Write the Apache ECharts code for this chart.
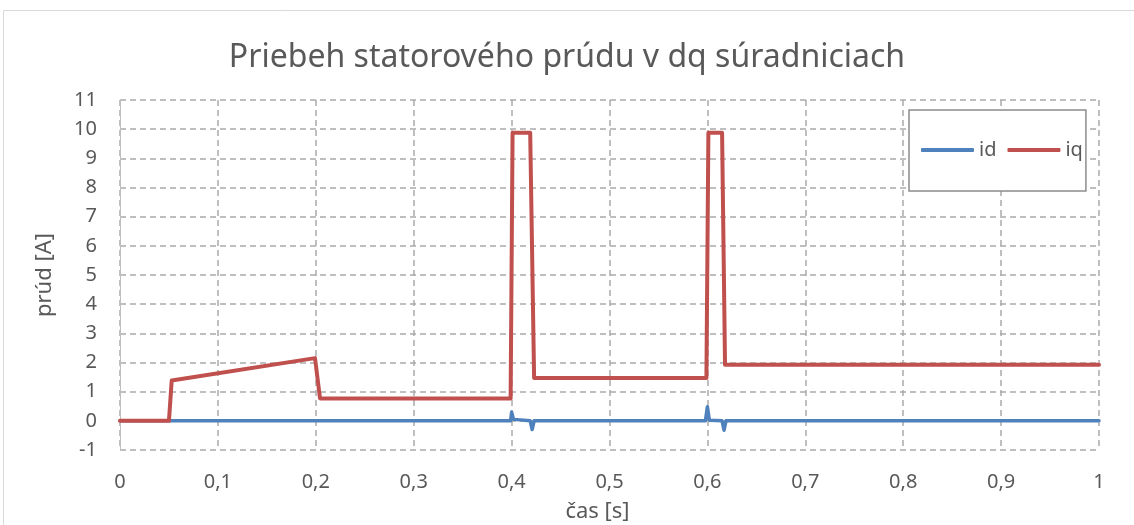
<!DOCTYPE html>
<html>
<head>
<meta charset="utf-8">
<script src="https://cdn.jsdelivr.net/npm/echarts@6/dist/echarts.min.js"></script>
<style>
html,body{margin:0;padding:0;background:#fff;}
#c{width:1134px;height:525px;}
</style>
</head>
<body>
<div id="c"></div>
<script>
// ---- data ----
var iqTime   = [0, 0.05, 0.0528, 0.1992, 0.2043, 0.399, 0.401, 0.419, 0.423, 0.599, 0.601, 0.615, 0.618, 1];
var iqValues = [0, 0,    1.38,   2.15,   0.77,   0.77,  9.88,  9.88,  1.47,  1.47,  9.88,  9.88,  1.92,  1.92];
var idTime   = [0, 0.399, 0.4, 0.402, 0.404, 0.419, 0.421, 0.423, 0.598, 0.6,  0.602, 0.615, 0.617, 0.619, 1];
var idValues = [0, 0,     0.3, 0.05,  0,     0,     -0.3,  0,     0,     0.48, 0.02,  0,     -0.32, 0,     0];
var xTickLabels = ['0','0,1','0,2','0,3','0,4','0,5','0,6','0,7','0,8','0,9','1'];
var yTickLabels = ['-1','0','1','2','3','4','5','6','7','8','9','10','11'];
var seriesNames = ['id','iq'];
var titleText = 'Priebeh statorového prúdu v dq súradniciach';
var xName = 'čas [s]';
var yName = 'prúd [A]';

function pairs(t, v){ var o=[]; for(var i=0;i<t.length;i++){ o.push([t[i], v[i]]); } return o; }

var font = 'Noto Sans';
var txt = '#595959';
var gridColor = '#ababab';

var chart = echarts.init(document.getElementById('c'), null, {renderer:'canvas'});
chart.setOption({
  animation: false,
  backgroundColor: '#ffffff',
  textStyle: {fontFamily: font, color: txt},
  title: {
    text: titleText, left: 'center', top: 37,
    textStyle: {fontFamily: font, fontSize: 32, fontWeight: 'normal', color: txt}
  },
  graphic: [{
    type: 'rect', silent: true, z: -10,
    shape: {x: 3.5, y: 10.5, width: 1300, height: 700},
    style: {fill: 'none', stroke: '#d9d9d9', lineWidth: 1}
  }],
  legend: {
    data: [
      {name: 'id', icon: 'roundRect'},
      {name: 'iq', icon: 'roundRect'}
    ],
    left: 909, top: 110,
    orient: 'horizontal',
    itemWidth: 53, itemHeight: 4, itemGap: 11,
    padding: [30, 3, 31, 12],
    backgroundColor: '#ffffff',
    borderColor: '#8c8c8c', borderWidth: 1.5,
    textStyle: {fontFamily: font, fontSize: 20, color: txt, padding: [0,0,0,0]}
  },
  grid: {left: 120, right: 35, top: 100, bottom: 75, containLabel: false, outerBoundsMode: 'none'},
  xAxis: {
    type: 'value', min: 0, max: 1, interval: 0.1,
    name: xName, nameLocation: 'middle', nameGap: 51,
    nameTextStyle: {fontFamily: font, fontSize: 22, color: txt, padding: [0, 24, 0, 0]},
    axisLine: {show: false},
    axisTick: {show: false},
    axisLabel: {
      margin: 22, fontFamily: font, fontSize: 20, color: txt,
      formatter: function(v){ return xTickLabels[Math.round(v*10)]; }
    },
    splitLine: {show: true, lineStyle: {color: gridColor, width: 1.5, type: [6,4]}}
  },
  yAxis: {
    type: 'value', min: -1, max: 11, interval: 1,
    name: yName, nameLocation: 'middle', nameGap: 64, nameRotate: 90,
    nameTextStyle: {fontFamily: font, fontSize: 22, color: txt},
    axisLine: {show: true, onZero: false, lineStyle: {color: '#bfbfbf', width: 1}},
    axisTick: {show: false},
    axisLabel: {
      margin: 23, fontFamily: font, fontSize: 20, color: txt,
      formatter: function(v){ return yTickLabels[Math.round(v)+1]; }
    },
    splitLine: {show: true, lineStyle: {color: gridColor, width: 1.5, type: [6,4]}}
  },
  series: [
    {
      name: seriesNames[0], type: 'line', data: pairs(idTime, idValues),
      showSymbol: false, symbol: 'none', smooth: false,
      itemStyle: {color: '#4f81bd'},
      lineStyle: {color: '#4f81bd', width: 3.5, cap: 'round', join: 'round'},
      z: 2
    },
    {
      name: seriesNames[1], type: 'line', data: pairs(iqTime, iqValues),
      showSymbol: false, symbol: 'none', smooth: false,
      itemStyle: {color: '#c0504d'},
      lineStyle: {color: '#c0504d', width: 4, cap: 'round', join: 'round'},
      z: 3
    }
  ]
});
</script>
</body>
</html>
